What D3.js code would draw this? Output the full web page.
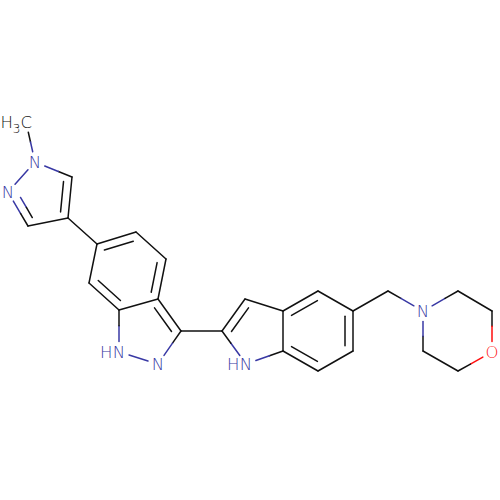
<!DOCTYPE html>
<html>
<head>
<meta charset="utf-8">
<script src="https://cdn.jsdelivr.net/npm/d3@7"></script>
<style>
    html, body { margin: 0; padding: 0; background: #fff; }
    text { font-family: "DejaVu Sans", sans-serif; font-size: 16.5px; font-weight: 200; }
    /* own layer, so the labels get plain grey antialiasing */
    .labels { opacity: 0.999; }
</style>
</head>
<body>
<script>
// atoms
var atomX = [26, 35, 8, 28, 68, 72, 97, 136, 166, 158, 119, 89, 181, 158, 119, 222, 245, 283, 283, 246, 318, 353, 353, 318, 388, 423, 458, 492, 492, 458, 423];
var atomY = [122, 162, 192, 226, 218, 177, 244, 232, 259, 299, 310, 283, 331, 364, 352, 331, 299, 311, 351, 364, 291, 311, 351, 371, 291, 311, 291, 311, 352, 371, 351];
var atomElement = ['C', 'N', 'N', 'C', 'C', 'C', 'C', 'C', 'C', 'C', 'C', 'C', 'C', 'N', 'N', 'C', 'C', 'C', 'C', 'N', 'C', 'C', 'C', 'C', 'C', 'N', 'C', 'C', 'O', 'C', 'C'];

var bondFrom = [0, 1, 2, 3, 4, 5, 4, 6, 7, 8, 9, 10, 11, 9, 12, 13, 14, 12, 15, 16, 17, 18, 19, 17, 20, 21, 22, 23, 21, 24, 25, 26, 27, 28, 29, 30];
var bondTo = [1, 2, 3, 4, 5, 1, 6, 7, 8, 9, 10, 11, 6, 12, 13, 14, 10, 15, 16, 17, 18, 19, 15, 20, 21, 22, 23, 18, 24, 25, 26, 27, 28, 29, 30, 25];

// double bonds: index into bondFrom / bondTo, and the ring the second line sits in
var doubleBond = [2, 4, 7, 9, 11, 13, 18, 23, 25, 27];
var doubleRing = [0, 0, 1, 1, 1, 2, 3, 4, 4, 4];
var rings = [
    [1, 2, 3, 4, 5],
    [6, 7, 8, 9, 10, 11],
    [9, 10, 14, 13, 12],
    [15, 16, 17, 18, 19],
    [17, 20, 21, 22, 23, 18]
];

// text of the labelled atoms
var labelAtom = [1, 2, 13, 14, 19, 25, 28];

var width = 500, height = 500;
var labelGap = 10.5, innerOffset = 8, innerTrim = 0.13;
var colors = { C: '#111', N: '#3838a4', O: '#ff0d0d' };

var x = d3.scaleLinear().domain([0, 500]).range([0, width]);
var y = d3.scaleLinear().domain([0, 500]).range([0, height]);

var svg = d3.select('body').append('svg')
    .attr('width', width)
    .attr('height', height);

svg.append('rect')
    .attr('width', width)
    .attr('height', height)
    .attr('fill', '#fff');

function hasLabel(i) {
    return i === 0 || labelAtom.indexOf(i) >= 0;
}

// returns one or two coloured pieces for a line between two atoms
function pieces(a, b, x1, y1, x2, y2) {
    var colorA = colors[atomElement[a]];
    var colorB = colors[atomElement[b]];
    var mx = (x1 + x2) / 2, my = (y1 + y2) / 2;
    if (colorA === colorB) {
        return [{ x1: x1, y1: y1, x2: x2, y2: y2, color: colorA }];
    }
    return [
        { x1: x1, y1: y1, x2: mx, y2: my, color: colorA },
        { x1: mx, y1: my, x2: x2, y2: y2, color: colorB }
    ];
}

function trimmed(a, b) {
    var x1 = x(atomX[a]), y1 = y(atomY[a]), x2 = x(atomX[b]), y2 = y(atomY[b]);
    var len = Math.hypot(x2 - x1, y2 - y1);
    var ux = (x2 - x1) / len, uy = (y2 - y1) / len;
    var startGap = hasLabel(a) ? labelGap : 0;
    var endGap = hasLabel(b) ? labelGap : 0;
    return [x1 + ux * startGap, y1 + uy * startGap, x2 - ux * endGap, y2 - uy * endGap];
}

var segments = [];

bondFrom.forEach(function(a, i) {
    var t = trimmed(a, bondTo[i]);
    segments = segments.concat(pieces(a, bondTo[i], t[0], t[1], t[2], t[3]));
});

doubleBond.forEach(function(bond, i) {
    var a = bondFrom[bond], b = bondTo[bond];
    var ring = rings[doubleRing[i]];
    var cx = d3.mean(ring, function(k) { return x(atomX[k]); });
    var cy = d3.mean(ring, function(k) { return y(atomY[k]); });
    var x1 = x(atomX[a]), y1 = y(atomY[a]), x2 = x(atomX[b]), y2 = y(atomY[b]);
    var len = Math.hypot(x2 - x1, y2 - y1);
    var nx = -(y2 - y1) / len, ny = (x2 - x1) / len;
    // flip the normal towards the ring centre
    if (nx * (cx - x1) + ny * (cy - y1) < 0) {
        nx = -nx;
        ny = -ny;
    }
    var dx = x2 - x1, dy = y2 - y1;
    var trimA = hasLabel(a) ? 0.28 : innerTrim;
    var trimB = hasLabel(b) ? 0.28 : innerTrim;
    segments = segments.concat(pieces(a, b,
        x1 + dx * trimA + nx * innerOffset,
        y1 + dy * trimA + ny * innerOffset,
        x2 - dx * trimB + nx * innerOffset,
        y2 - dy * trimB + ny * innerOffset));
});

svg.append('g')
    .selectAll('line')
    .data(segments)
    .enter()
    .append('line')
    .attr('x1', function(d) { return d.x1; })
    .attr('y1', function(d) { return d.y1; })
    .attr('x2', function(d) { return d.x2; })
    .attr('y2', function(d) { return d.y2; })
    .attr('stroke', function(d) { return d.color; })
    .attr('stroke-width', 1.5)
    .attr('stroke-linecap', 'round');

var labels = svg.append('g').attr('class', 'labels');

// N and O labels; the two ring NH atoms carry an H on the left
labels.append('g')
    .selectAll('text')
    .data(labelAtom)
    .enter()
    .append('text')
    .attr('x', function(d) { return x(atomX[d]); })
    .attr('y', function(d) { return y(atomY[d]) + 6; })
    .attr('fill', function(d) { return colors[atomElement[d]]; })
    .attr('text-anchor', 'middle')
    .text(function(d) { return atomElement[d]; });

labels.append('g')
    .selectAll('text')
    .data([14, 19])
    .enter()
    .append('text')
    .attr('x', function(d) { return x(atomX[d]) - 6.5; })
    .attr('y', function(d) { return y(atomY[d]) + 6; })
    .attr('fill', colors.N)
    .attr('text-anchor', 'end')
    .text('H');

// methyl
var methyl = labels.append('text')
    .attr('x', x(atomX[0]) + 6)
    .attr('y', y(atomY[0]) + 6)
    .attr('fill', colors.C)
    .attr('text-anchor', 'end');
methyl.append('tspan').text('H');
methyl.append('tspan').attr('font-size', 12).attr('dy', 5).text('3');
methyl.append('tspan').attr('dy', -5).text('C');
</script>
</body>
</html>
